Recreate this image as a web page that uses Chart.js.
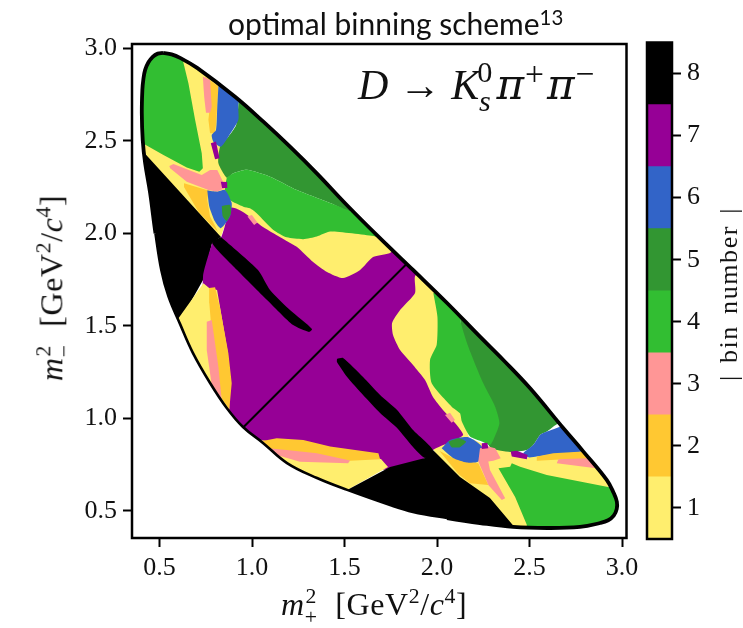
<!DOCTYPE html>
<html>
<head>
<meta charset="utf-8">
<title>optimal binning scheme</title>
<script src="https://cdn.jsdelivr.net/npm/chart.js@4/dist/chart.umd.min.js"></script>
<style>
  html, body { margin: 0; background: #fff; }
  body { width: 743px; height: 628px; position: relative; overflow: hidden; color: #111; }
  canvas { position: absolute; top: 0; }
  .label { position: absolute; white-space: nowrap; font-family: "Liberation Serif", serif; line-height: 1; }
  .ss { display: inline-flex; flex-direction: column; vertical-align: .55em; font-size: .68em; line-height: .95; text-align: center; }
  sup { font-size: .68em; line-height: 0; }
  #title { left: 228px; top: 5px; font: 30px Lato, sans-serif; }
  #title sup { vertical-align: .48em; font-size: .68em; }
  #anno { left: 358px; top: 58px; font-size: 42px; }
  #anno sup { font-size: .8em; vertical-align: .42em; margin: 0 2px 0 1px; }
  #anno .ss { font-size: .72em; margin-left: -2px; margin-right: 3px; }
  #anno .pi { font-family: "DejaVu Serif", serif; font-style: italic; margin-left: 1px; }
  #xlabel { left: 281px; top: 586px; font-size: 32px; word-spacing: 9px; letter-spacing: .6px; }
  #ylabel { left: 54px; top: 288px; font-size: 32px; word-spacing: 9px; letter-spacing: .6px; transform: translate(-50%, -50%) rotate(-90deg); }
  #cblabel { left: 729px; top: 294px; font-size: 26px; letter-spacing: 1.6px; word-spacing: 3px; transform: translate(-50%, -50%) rotate(-90deg); }
</style>
</head>
<body>
<canvas id="plot" width="743" height="628" style="left:0"></canvas>
<canvas id="bar" width="103" height="628" style="left:640px"></canvas>
<div class="label" id="title">optimal binning scheme<sup>13</sup></div>
<div class="label" id="anno"><i>D</i> → <i>K</i><span class="ss"><span>0</span><i>s</i></span><span class="pi">π</span><sup>+</sup><span class="pi">π</span><sup>−</sup></div>
<div class="label" id="xlabel"><i>m</i><span class="ss"><span>2</span><span>+</span></span> [GeV<sup>2</sup>/<i>c</i><sup>4</sup>]</div>
<div class="label" id="ylabel"><i>m</i><span class="ss"><span>2</span><span>−</span></span> [GeV<sup>2</sup>/<i>c</i><sup>4</sup>]</div>
<div class="label" id="cblabel">| bin number |</div>
<script>
const tickValues = [0.5, 1.0, 1.5, 2.0, 2.5, 3.0];
const binNumbers = [1, 2, 3, 4, 5, 6, 7, 8];
const binColors = ['#ffee6e', '#ffc832', '#ff9696', '#32be32', '#329632', '#3264c8', '#960096', '#000000'];

// kinematic edge
const boundary = [[.519,2.976],[.49,2.972],[.463,2.955],[.44,2.925],[.422,2.884],[.412,2.83],[.407,2.776],[.404,2.651],[.409,2.505],[.422,2.381],[.449,2.219],
  [.478,2.0],[.51,1.80],[.548,1.66],[.611,1.51],[.68,1.355],[.773,1.192],[.863,1.057],[.951,.954],[1.059,.868],[1.189,.759],
  [1.351,.678],[1.514,.614],[1.746,.532],[1.870,.495],[2.054,.462],[2.232,.435],[2.411,.414],[2.595,.408],[2.773,.414],
  [2.881,.435],[2.925,.45],[2.955,.475],[2.971,.51],[2.972,.55],[2.955,.597],[2.917,.668],[2.791,.821],[2.683,.947],[2.503,1.163],
  [2.358,1.316],[2.232,1.442],[2.054,1.624],[1.870,1.803],[1.683,1.983],[1.512,2.154],[1.350,2.325],[1.205,2.469],
  [1.061,2.604],[.908,2.739],[.703,2.895],[.611,2.949],[.565,2.968]];
const diagonal = [[.93,.93],[1.85,1.85]];

// bin regions, upper half
const yellowUpper = [[.611,2.95],[.83,2.81],[.845,2.505],[.899,2.181],[.831,1.979],[.395,2.43],[.395,2.50]];
const yellowBand = [[.870,2.192],[1.043,2.154],[1.422,2.046],[1.719,2.019],[1.854,1.846],[1.773,1.830],[1.492,1.722],[1.259,1.857],[.886,2.100]];
const blackLeft = [[.384,2.473],[.832,1.981],[.784,1.949],[.735,1.749],[.605,1.516],[.395,1.478]];
const greenCorner = [[.629,2.923],[.656,2.812],[.692,2.614],[.728,2.434],[.734,2.352],[.715,2.334],[.647,2.356],[.521,2.424],[.416,2.484],[.368,2.505],[.368,3.019],[.611,3.019]];
const darkUpper = [[.919,2.749],[1.259,2.668],[1.557,2.181],[1.539,2.118],[1.422,2.165],[1.242,2.235],[1.097,2.307],[.971,2.344],[.899,2.325],[.863,2.301],[.818,2.379],[.827,2.469],[.872,2.523],[.914,2.586],[.926,2.704]];
const greenUpper = [[.863,2.301],[.899,2.325],[.971,2.344],[1.097,2.307],[1.242,2.235],[1.422,2.165],[1.539,2.118],[1.72,2.05],[1.69,1.98],[1.656,1.986],[1.422,2.010],[1.350,1.983],[1.277,1.969],[1.188,1.979],[1.115,2.019],[1.025,2.109],[.989,2.136],[.953,2.145],[.881,2.181],[.854,2.235]];
const pinkSpotUpper = [[.975,2.091],[.999,2.100],[1.029,2.059],[1.011,2.046]];
const orangeTop = [[.746,2.848],[.818,2.794],[.805,2.586],[.800,2.541],[.773,2.541],[.764,2.614],[.773,2.695]];
const pinkTop = [[.734,2.848],[.773,2.830],[.782,2.685],[.773,2.653],[.751,2.653],[.741,2.739]];
const blueTop = [[.818,2.794],[.854,2.857],[.962,2.776],[.926,2.704],[.926,2.614],[.872,2.523],[.831,2.469],[.791,2.496],[.782,2.532],[.805,2.559],[.812,2.685]];
const purpleTick = [[.777,2.488],[.805,2.497],[.824,2.407],[.800,2.401]];
const pinkCrossUpper = [[.553,2.365],[.575,2.376],[.728,2.316],[.773,2.343],[.812,2.343],[.843,2.280],[.854,2.246],[.812,2.226],[.764,2.235],[.647,2.280],[.557,2.352]];
const purpleDotUpper = [[.831,2.280],[.865,2.278],[.866,2.246],[.838,2.246]];
const orangeLeft = [[.632,2.271],[.764,2.232],[.758,2.181],[.773,2.091],[.800,2.041],[.816,2.008],[.710,2.118],[.632,2.251]];
const blueLeft = [[.758,2.232],[.812,2.226],[.854,2.235],[.890,2.164],[.881,2.091],[.831,2.028],[.800,2.064],[.769,2.145]];
const darkSpotUpper = [[.836,2.149],[.881,2.154],[.886,2.109],[.863,2.068],[.842,2.091]];
const blackStripUpper = [[.832,1.981],[1.032,1.803],[1.097,1.695],[1.205,1.586],[1.324,1.484],[1.308,1.468],[1.222,1.505],[1.081,1.641],[.919,1.803],[.784,1.949]];
const yellowWedge = [[.737,1.731],[.768,1.705],[.811,1.695],[.870,1.35],[.877,1.050],[.870,1.035],[.746,1.154],[.584,1.516]];
const orangeWedge = [[.768,1.705],[.800,1.709],[.827,1.597],[.872,1.352],[.890,1.191],[.877,1.050],[.836,1.109],[.791,1.352],[.769,1.623]];
const pinkWedge = [[.755,1.523],[.782,1.532],[.818,1.280],[.836,1.100],[.782,1.181],[.755,1.370]];

// centre
const purpleMain = [[.784,1.949],[.832,1.976],[.886,2.138],[.951,2.116],[1.059,2.035],[1.178,1.965],[1.243,1.927],[1.330,1.846],[1.405,1.792],[1.492,1.759],[1.584,1.803],[1.654,1.873],[1.746,1.895],[1.80,1.94],[1.935,1.803],[1.881,1.770],[1.881,1.678],[1.800,1.586],[1.757,1.516],[1.762,1.451],[1.800,1.370],[1.870,1.289],[1.935,1.208],[1.978,1.116],[2.032,1.046],[2.097,.976],[2.141,.911],[2.070,.873],[1.978,.830],[1.935,.786],[1.746,.722],[1.054,.830],[.854,.992],[.746,1.370],[.735,1.768]];
const blackStripLower = [[1.459,1.322],[1.492,1.327],[1.600,1.224],[1.692,1.127],[1.784,1.046],[1.870,.938],[1.978,.830],[1.935,.786],[1.870,.846],[1.784,.949],[1.692,1.030],[1.600,1.127],[1.514,1.224],[1.459,1.305]];

// bin regions, lower half
const yellowFloor = [[1.043,.884],[1.259,.857],[1.697,.781],[1.735,.738],[1.514,.614],[1.476,.587],[1.016,.830]];
const orangeFloor = [[1.043,.875],[1.133,.893],[1.277,.884],[1.422,.848],[1.683,.812],[1.692,.780],[1.530,.772],[1.242,.793],[1.080,.841]];
const pinkFloor = [[1.088,.839],[1.188,.830],[1.350,.812],[1.530,.773],[1.519,.758],[1.259,.766],[1.133,.803]];
const blackBottom = [[1.978,.830],[2.124,.684],[2.286,.570],[2.432,.397],[2.341,.316],[1.476,.559],[1.514,.614],[1.746,.738],[1.935,.786]];
const yellowRight = [[1.854,1.830],[2.043,1.695],[2.043,1.262],[2.178,.884],[2.124,.857],[1.935,.830],[1.719,1.478]];
const yellowCorner = [[1.978,.835],[2.141,.911],[2.286,.846],[2.395,.819],[2.49,.79],[2.80,.82],[2.95,.65],[2.60,.39],[2.42,.39],[2.2,.6],[2.0,.8]];
const darkRight = [[2.124,1.543],[2.205,1.559],[2.746,1.019],[2.649,.970],[2.593,.929],[2.557,.911],[2.520,.857],[2.485,.830],[2.395,.819],[2.286,.846],[2.178,1.100]];
const greenRight = [[1.980,1.677],[2.043,1.722],[2.151,1.559],[2.124,1.542],[2.169,1.388],[2.250,1.190],[2.314,1.064],[2.337,.974],[2.304,.884],[2.286,.857],[2.242,.875],[2.178,.902],[2.134,.983],[2.124,1.028],[2.079,1.064],[1.971,1.190],[1.962,1.316],[1.998,1.398],[2.002,1.550]];
const pinkSpotLower = [[2.043,1.019],[2.070,1.031],[2.097,.992],[2.079,.977]];
const blueRight = [[2.593,.929],[2.719,.965],[2.827,.830],[2.789,.821],[2.539,.794],[2.494,.790],[2.466,.812],[2.520,.857],[2.557,.911]];
const orangeRight = [[2.539,.794],[2.628,.812],[2.789,.821],[2.854,.776],[2.692,.780],[2.539,.772]];
const pinkRight = [[2.656,.780],[2.809,.785],[2.87,.73],[2.647,.758]];
const greenBottom = [[2.332,.731],[2.395,.739],[2.404,.758],[2.449,.739],[2.593,.695],[2.917,.631],[3.016,.614],[3.016,.370],[2.486,.370],[2.485,.425],[2.422,.576]];
const orangeLower = [[2.012,.826],[2.089,.785],[2.223,.758],[2.277,.641],[2.178,.650],[2.115,.700]];
const blueLower = [[2.025,.839],[2.070,.884],[2.169,.899],[2.242,.848],[2.223,.767],[2.161,.762],[2.089,.785]];
const darkSpotLower = [[2.061,.875],[2.115,.893],[2.157,.875],[2.124,.845],[2.079,.845]];
const pinkCrossLower = [[2.232,.839],[2.277,.848],[2.314,.839],[2.344,.785],[2.304,.772],[2.277,.767],[2.286,.722],[2.368,.569],[2.350,.559],[2.277,.641],[2.223,.767]];
const purpleDotLower = [[2.242,.866],[2.272,.869],[2.277,.839],[2.242,.835]];
const purpleBar = [[2.398,.821],[2.431,.826],[2.490,.803],[2.485,.780],[2.404,.794]];

// painted bottom to top: [bin, polygon]
const regions = [
  [1, yellowUpper], [1, yellowBand], [1, yellowRight], [1, yellowCorner],
  [8, blackLeft], [7, purpleMain],
  [1, yellowWedge], [2, orangeWedge], [3, pinkWedge],
  [1, yellowFloor], [2, orangeFloor], [3, pinkFloor],
  [8, blackBottom], [8, blackStripUpper], [8, blackStripLower],
  [4, greenCorner], [5, darkUpper], [4, greenUpper], [3, pinkSpotUpper],
  [2, orangeTop], [3, pinkTop], [6, blueTop], [7, purpleTick],
  [2, orangeLeft], [3, pinkCrossUpper], [6, blueLeft], [5, darkSpotUpper], [7, purpleDotUpper],
  [5, darkRight], [4, greenRight], [3, pinkSpotLower],
  [6, blueRight], [2, orangeRight], [3, pinkRight], [4, greenBottom],
  [2, orangeLower], [6, blueLower], [5, darkSpotLower], [3, pinkCrossLower], [7, purpleDotLower], [7, purpleBar]
];
// organic outlines get a little smoothing
const smooth = [purpleMain, greenUpper, darkUpper, greenRight, darkRight, blueTop, blueRight, blueLeft, blueLower, darkSpotUpper, darkSpotLower, blackStripUpper, blackStripLower];

const toPoints = pts => pts.map(p => ({x: p[0], y: p[1]}));
const serif = {family: '"Liberation Serif", serif', size: 26};

const frame = {
  id: 'frame',
  afterDraw(chart) {
    const {ctx, chartArea: a} = chart;
    ctx.save();
    ctx.strokeStyle = '#000';
    ctx.lineWidth = 2.5;
    ctx.strokeRect(a.left, a.top, a.right - a.left, a.bottom - a.top);
    ctx.restore();
  }
};

// bins stop at the kinematic edge; the outline (dataset 0) is painted last, unclipped
const clipToBoundary = {
  id: 'clipToBoundary',
  beforeDatasetsDraw(chart) {
    const {ctx, scales: {x, y}} = chart;
    ctx.save();
    ctx.beginPath();
    boundary.forEach(p => ctx.lineTo(x.getPixelForValue(p[0]), y.getPixelForValue(p[1])));
    ctx.closePath();
    ctx.clip();
  },
  beforeDatasetDraw(chart, args) {
    if (args.index === 0) chart.ctx.restore();
  }
};

const datasets = [{
  data: toPoints(boundary.concat([boundary[0]])),
  showLine: true, borderColor: '#000', borderWidth: 3.8, pointRadius: 0, tension: 0.4,
  // the outline runs thinner along the lower left arc
  segment: {borderWidth: c => (c.p0.parsed.x + c.p0.parsed.y < 2.5 ? 2.6 : 3.8)},
  order: 0
}, {
  data: toPoints(diagonal),
  showLine: true, borderColor: '#000', borderWidth: 2, pointRadius: 0, order: 1
}];
regions.forEach((r, i) => {
  datasets.push({
    data: toPoints(r[1].concat([r[1][0]])),
    showLine: true, fill: 'shape', backgroundColor: binColors[r[0] - 1],
    borderWidth: 0, pointRadius: 0, tension: smooth.includes(r[1]) ? 0.2 : 0,
    order: regions.length + 1 - i
  });
});

const axis = () => ({
  type: 'linear',
  afterBuildTicks(s) { s.ticks = tickValues.map(v => ({value: v})); },
  grid: {drawOnChartArea: false, color: '#000', tickColor: '#000', tickLength: 9, tickWidth: 2},
  border: {display: false},
  ticks: {color: '#111', font: serif, padding: 6, maxRotation: 0, callback: v => v.toFixed(1)}
});

new Chart(document.getElementById('plot'), {
  type: 'scatter',
  data: {datasets},
  plugins: [clipToBoundary, frame],
  options: {
    responsive: false,
    animation: false,
    layout: {padding: {top: 44, right: 116.5}},
    plugins: {legend: false, tooltip: false},
    scales: {
      x: Object.assign(axis(), {min: .351, max: 3.024, afterFit(s) { s.height = 90; }}),
      y: Object.assign(axis(), {min: .354, max: 3.024, afterFit(s) { s.width = 132; }})
    }
  }
});

new Chart(document.getElementById('bar'), {
  type: 'bar',
  data: {
    labels: ['bin'],
    datasets: binNumbers.map((n, i) => ({
      data: [[n - 0.5, n + 0.5]], backgroundColor: binColors[i],
      barPercentage: 1, categoryPercentage: 1, grouped: false, borderWidth: 0
    }))
  },
  plugins: [frame],
  options: {
    responsive: false,
    animation: false,
    layout: {padding: {top: 42.5, bottom: 89, left: 7}},
    plugins: {legend: false, tooltip: false},
    scales: {
      x: {display: false},
      y: {
        position: 'right', min: 0.5, max: 8.5,
        afterBuildTicks(s) { s.ticks = binNumbers.map(v => ({value: v})); },
        afterFit(s) { s.width = 71; },
        grid: {drawOnChartArea: false, tickColor: '#000', tickLength: 9, tickWidth: 2},
        border: {display: false},
        ticks: {color: '#111', font: serif, padding: 6, callback: v => String(v)}
      }
    }
  }
});
</script>
</body>
</html>
